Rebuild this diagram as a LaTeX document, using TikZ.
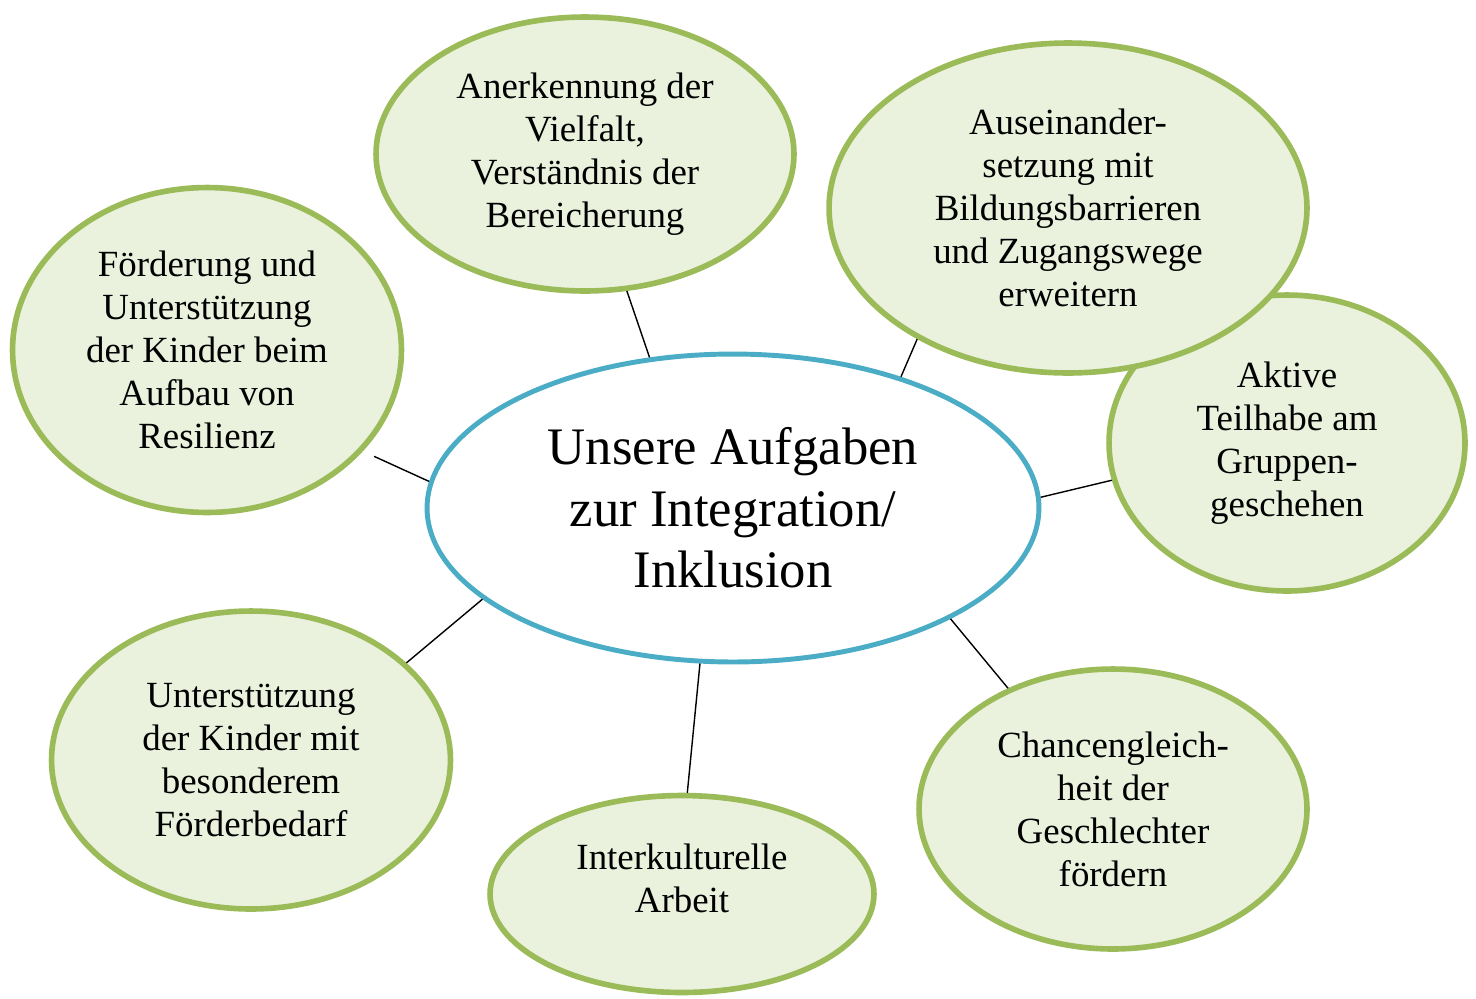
\documentclass[tikz,border=0pt]{standalone}
\usepackage{fontspec}
\setmainfont{Liberation Serif}
\usetikzlibrary{shapes.geometric}
\definecolor{leafline}{HTML}{9BBB59}
\definecolor{leaffill}{HTML}{EAF1DD}
\definecolor{hubline}{HTML}{4BACC6}
\tikzset{
	leaf/.style={ellipse,draw=leafline,fill=leaffill,line width=3.2pt,inner sep=0pt,align=center,font=\fontsize{21}{24.5}\selectfont},
	hub/.style={ellipse,draw=hubline,fill=white,line width=2.8pt,inner sep=0pt,align=center,font=\fontsize{30}{35}\selectfont},
	link/.style={line width=0.8pt},
}
\begin{document}
\begin{tikzpicture}[x=0.02cm,y=-0.02cm]
	\useasboundingbox (0,0) rectangle (1476,998);
	% the hub in the middle
	\node[hub,minimum width=12.24cm,minimum height=6.16cm] (ziel) at (733,508) {Unsere Aufgaben\\zur Integration/\\Inklusion};
	% the tasks around it
	\node[leaf,minimum width=8.36cm,minimum height=5.48cm] (vielfalt) at (585,154) {Anerkennung der\\Vielfalt,\\Verständnis der\\Bereicherung};
	\node[leaf,minimum width=7.12cm,minimum height=5.92cm] (teilhabe) at (1287,443) {Aktive\\Teilhabe am\\Gruppen-\\geschehen};
	\node[leaf,minimum width=9.56cm,minimum height=6.6cm] (barrieren) at (1068,208) {Auseinander-\\setzung mit\\Bildungsbarrieren\\und Zugangswege\\erweitern};
	\node[leaf,minimum width=7.78cm,minimum height=6.5cm] (resilienz) at (207,350) {Förderung und\\Unterstützung\\der Kinder beim\\Aufbau von\\Resilienz};
	\node[leaf,minimum width=7.98cm,minimum height=5.96cm] (foerder) at (251,760) {Unterstützung\\der Kinder mit\\besonderem\\Förderbedarf};
	\node[leaf,minimum width=7.68cm,minimum height=3.94cm] (kultur) at (682,894) {};
	\node[align=center,font=\fontsize{21}{24.5}\selectfont] (kulturtext) at (682,878) {Interkulturelle\\Arbeit};
	\node[leaf,minimum width=7.76cm,minimum height=5.6cm] (chancen) at (1113,809) {Chancengleich-\\heit der\\Geschlechter\\fördern};
	% connectors
	\draw[link] (ziel.119)--(vielfalt.-73);
	\draw[link] (ziel.38)--(barrieren.-139);
	\draw[link] (ziel.2)--(teilhabe.-168);
	\draw[link,shorten >=7pt] (ziel.175)--(resilienz.-33);
	\draw[link] (ziel.-160)--(foerder.32);
	\draw[link] (ziel.-102)--(kultur.87);
	\draw[link] (ziel.-27)--(chancen.131);
\end{tikzpicture}
\end{document}
